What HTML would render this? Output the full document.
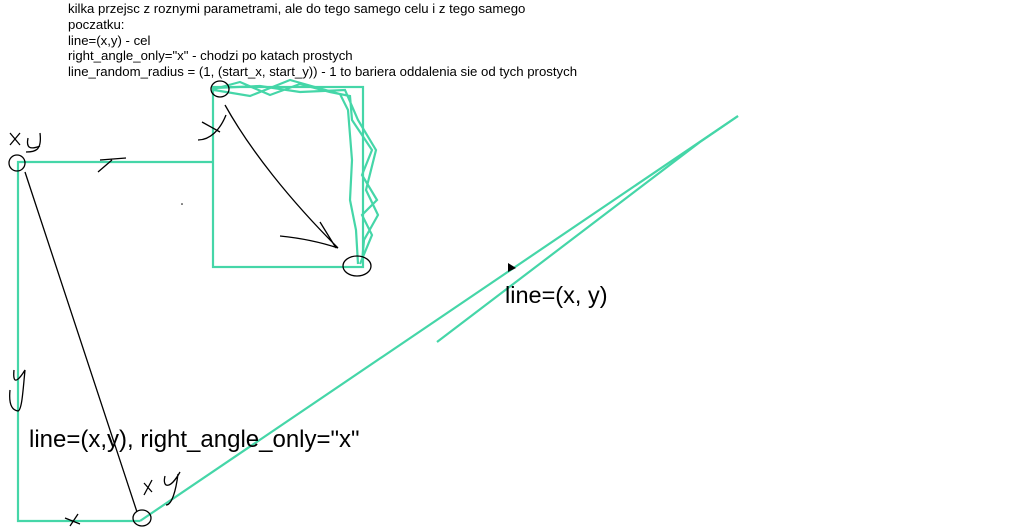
<!DOCTYPE html>
<html><head><meta charset="utf-8"><style>
html,body{margin:0;padding:0;background:#fff;width:1023px;height:529px;overflow:hidden}
svg{display:block}
text{font-family:"Liberation Sans",sans-serif;fill:#000}
</style></head><body>
<svg width="1023" height="529" viewBox="0 0 1023 529">
<g font-size="13.2">
<text x="68" y="13">kilka przejsc z roznymi parametrami, ale do tego samego celu i z tego samego</text>
<text x="68" y="29">poczatku:</text>
<text x="68" y="45">line=(x,y) - cel</text>
<text x="68" y="60">right_angle_only="x" - chodzi po katach prostych</text>
<text x="68" y="76">line_random_radius = (1, (start_x, start_y)) - 1 to bariera oddalenia sie od tych prostych</text>
</g>
<g fill="none" stroke="#45d6a8" stroke-width="2.2">
<polyline points="140,521 18,521 18,162 213,162"/>
<rect x="213" y="87" width="150" height="180"/>
<path d="M214,89 L240,82 L270,95 L300,84 L330,92 L350,96 L352,120 L372,150 L362,175 L377,200 L362,215 L372,235 L360,264 M214,90 L250,96 L290,80 L340,94 L348,110 L352,160 L350,200 L356,230 L358,264 M214,88 L260,86 L300,92 L345,90 L358,120 L376,150 L366,190 L378,215 L364,240 L362,262"/>
<line x1="140" y1="521" x2="738" y2="116"/>
<polyline points="437,342 700,142 738,116"/>
</g>
<g fill="none" stroke="#000" stroke-width="1.3">
<line x1="137" y1="512" x2="25" y2="172"/>
<path d="M225,105 C250,150 290,200 338,248 M320,222 L336,248 M280,236 C300,238 320,242 338,248"/>
<ellipse cx="220" cy="89" rx="9" ry="8"/>
<ellipse cx="357" cy="266" rx="14" ry="10"/>
<ellipse cx="17" cy="163" rx="8" ry="8"/>
<ellipse cx="142" cy="518" rx="9" ry="8"/>
<path d="M10,133 L20,145 M20,133 L10,145 M28,138 C26,148 30,150 40,146 M40,133 C42,150 36,152 26,152"/>
<path d="M98,172 L112,160 M100,160 L126,158"/>
<path d="M202,122 L220,132 M226,115 C220,130 210,140 198,140"/>
<path d="M14,370 C12,390 22,375 25,370 C23,390 22,410 18,411 C10,410 9,400 10,390"/>
<path d="M144,483 L152,492 M152,480 L144,495 M165,476 C162,488 170,490 180,472 M178,474 C176,490 172,505 166,505"/>
<path d="M65,518 L80,524 M70,526 L78,514"/>
</g>
<path d="M508,263 L516,268 L508,272 Z" fill="#000"/>
<text x="505" y="303" font-size="23.5">line=(x, y)</text>
<text x="29" y="447" font-size="24">line=(x,y), right_angle_only="x"</text>
<circle cx="182" cy="204" r="0.8" fill="#000"/>
</svg>
</body></html>
